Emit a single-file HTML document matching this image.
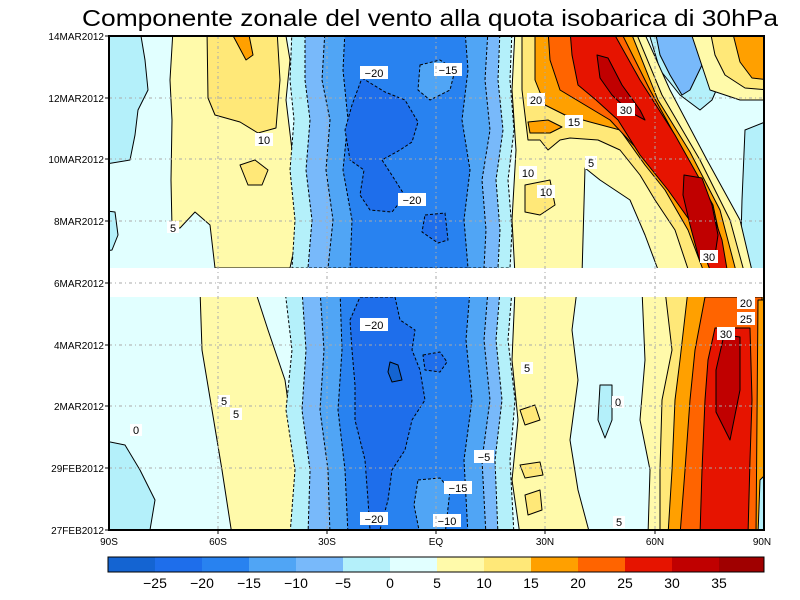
<!DOCTYPE html>
<html><head><meta charset="utf-8"><style>body{margin:0;background:#fff}svg{display:block}</style></head><body>
<svg width="800" height="600" viewBox="0 0 800 600" xmlns="http://www.w3.org/2000/svg" font-family="Liberation Sans, sans-serif">
<rect width="800" height="600" fill="#fff"/>
<text x="82" y="26" font-size="23" textLength="696" lengthAdjust="spacingAndGlyphs">Componente zonale del vento alla quota isobarica di 30hPa</text>
<defs><clipPath id="c"><rect x="109" y="36" width="655" height="494"/></clipPath></defs>
<g clip-path="url(#c)" stroke="#000" stroke-width="1" stroke-linejoin="round">
<rect x="109" y="36" width="655" height="494" fill="#e1ffff" stroke="none"/>
<!-- TOP HALF -->
<polygon fill="#b4f0fa" points="100,30 140,30 145,60 148,90 138,110 135,135 130,160 100,165"/>
<polygon fill="#b4f0fa" points="100,210 115,212 118,235 112,250 100,252"/>
<polygon fill="#fffaaa" points="173,30 285,30 290,60 286,100 292,150 294,200 298,230 290,268 215,268 210,225 195,212 180,228 172,228 171,180 172,120 170,80"/>
<polygon fill="#ffe878" points="207,30 277,30 280,80 276,128 258,133 240,122 215,115 208,98"/>
<polygon fill="#ffe878" points="240,165 255,160 268,170 262,185 248,185"/>
<polygon fill="#ffa000" points="230,30 248,30 253,55 246,60"/>
<!-- blue core top -->
<polygon fill="#b4f0fa" stroke-dasharray="3,2" points="292,30 512,30 510,80 514,130 508,180 512,230 510,268 292,268 295,220 290,170 294,120 290,80"/>
<polygon fill="#78b9fa" stroke-dasharray="3,2" points="305,30 500,30 498,80 503,130 496,180 500,230 498,268 308,268 312,220 306,170 310,120 305,80"/>
<polygon fill="#50a5f5" stroke-dasharray="3,2" points="325,30 488,30 485,80 490,130 482,180 486,230 484,268 328,268 333,220 326,170 330,120 322,80"/>
<polygon fill="#2882f0" stroke-dasharray="3,2" points="345,30 465,30 468,70 462,120 470,170 464,220 468,268 350,268 352,220 343,170 348,120 343,70"/>
<polygon fill="#50a5f5" stroke-dasharray="3,2" points="420,65 440,60 455,70 450,90 430,100 418,90"/>
<polygon fill="#1e6eeb" stroke-dasharray="3,2" points="362,78 385,92 405,100 418,122 412,142 400,150 382,160 395,180 405,196 392,212 370,210 360,195 364,170 350,160 345,130 352,105"/>
<polygon fill="#1e6eeb" stroke-dasharray="3,2" points="425,215 445,213 448,240 438,243 422,232"/>
<!-- right top -->
<polygon fill="#b4f0fa" points="648,30 720,30 725,70 712,100 700,110 680,95 660,70"/>
<polygon fill="#78b9fa" points="655,30 700,30 702,65 690,90 682,95 670,75 660,55"/>
<polygon fill="#b4f0fa" points="745,130 770,120 770,275 740,275 742,200"/>
<polygon fill="#fffaaa" points="690,30 770,30 770,100 740,100 710,90 700,60"/>
<polygon fill="#ffe878" points="710,30 770,30 770,90 745,88 725,75 715,55"/>
<polygon fill="#ffa000" points="732,30 770,30 770,80 752,78 740,62"/>
<polygon fill="#fffaaa" points="515,30 643,30 670,90 707,160 740,220 753,275 660,275 645,235 630,200 600,180 585,168 582,275 515,275 512,220 516,150 512,90"/>
<polygon fill="#ffe878" points="522,30 635,30 662,95 700,160 730,220 745,275 690,275 675,230 655,200 640,175 620,150 598,140 570,138 560,140 548,150 540,140 528,140 522,90"/>
<polygon fill="#ffe878" points="525,185 550,180 555,205 540,215 525,212"/>
<polygon fill="#ffa000" points="535,30 630,30 658,100 690,152 720,210 737,275 705,275 688,230 665,190 645,165 620,130 590,122 565,115 545,105 535,80"/>
<polygon fill="#ffa000" points="528,122 548,120 562,127 550,133 530,133"/>
<polygon fill="#ff6400" points="548,30 620,30 650,90 683,150 713,205 728,275 712,275 693,225 665,185 638,150 610,120 585,105 560,90 550,60"/>
<polygon fill="#e61400" points="570,30 612,30 640,80 675,135 703,185 722,240 728,275 712,275 693,225 668,190 640,155 618,120 596,100 578,85 572,55"/>
<polygon fill="#c00000" points="597,55 608,58 622,85 640,110 645,120 630,112 612,95 600,78"/>
<polygon fill="#c00000" points="684,175 702,178 712,205 718,235 714,262 700,262 690,225 683,195"/>
<!-- BOTTOM HALF -->
<polygon fill="#b4f0fa" points="100,440 125,445 140,470 155,500 150,530 100,535"/>
<polygon fill="#fffaaa" points="200,290 255,290 268,330 285,380 292,430 300,480 305,535 232,535 222,470 212,410 202,350"/>
<polygon fill="#b4f0fa" stroke-dasharray="3,2" points="285,290 512,290 508,340 515,400 510,460 514,535 290,535 295,470 286,410 292,350"/>
<polygon fill="#78b9fa" stroke-dasharray="3,2" points="302,290 500,290 496,340 502,400 495,460 498,535 308,535 310,470 302,410 306,350"/>
<polygon fill="#50a5f5" stroke-dasharray="3,2" points="320,290 488,290 484,340 490,400 482,460 486,535 330,535 328,470 320,410 324,350"/>
<polygon fill="#2882f0" stroke-dasharray="3,2" points="340,290 470,290 466,340 472,400 464,460 468,535 348,535 345,470 338,410 342,350"/>
<polygon fill="#50a5f5" stroke-dasharray="3,2" points="418,480 440,478 450,490 445,535 420,535 414,505"/>
<polygon fill="#1e6eeb" stroke-dasharray="3,2" points="360,297 395,297 400,320 415,330 412,350 420,370 425,400 412,420 405,450 392,470 388,500 380,530 370,530 368,500 365,460 355,420 355,385 352,350 350,320"/>
<polygon fill="#1e6eeb" stroke-dasharray="3,2" points="423,355 440,352 447,362 440,372 425,370"/>
<polygon fill="#1464d2" points="390,362 398,365 402,380 392,382 388,372"/>
<polygon fill="#fffaaa" points="515,290 577,290 572,330 578,380 570,440 578,490 590,535 520,535 512,480 518,420 512,360"/>
<polygon fill="#ffe878" points="520,410 535,405 540,420 525,425"/>
<polygon fill="#ffe878" points="520,465 540,462 543,475 525,478"/>
<polygon fill="#ffe878" points="525,495 540,490 542,510 528,515"/>
<polygon fill="#b4f0fa" points="600,385 612,385 612,420 605,438 598,420"/>
<polygon fill="#fffaaa" points="642,290 770,290 770,535 648,535 650,470 640,420 645,360"/>
<polygon fill="#ffe878" points="665,290 770,290 770,535 660,535 660,470 662,400 672,350"/>
<polygon fill="#ffa000" points="688,290 770,290 770,535 668,535 672,470 675,400 680,360"/>
<polygon fill="#ff6400" points="705,297 762,297 760,400 758,535 680,535 685,470 690,400 695,350"/>
<polygon fill="#e61400" points="715,328 750,328 752,400 750,460 748,535 700,535 702,470 705,400 708,360"/>
<polygon fill="#c00000" points="724,335 740,337 740,390 730,440 716,412 716,370"/>
<polygon fill="#ffa000" points="758,300 770,300 770,535 756,535"/>
<polygon fill="#b4f0fa" points="760,480 770,470 770,535 758,535"/>
</g>
<!-- missing data band -->
<rect x="109" y="268" width="656" height="29" fill="#fff"/>
<!-- labels on contours -->
<g font-size="11" text-anchor="middle">
<g fill="#fff"><rect x="255" y="133" width="18" height="13"/><rect x="167" y="221" width="12" height="12"/><rect x="360" y="66" width="28" height="13"/><rect x="434" y="63" width="28" height="13"/><rect x="398" y="193" width="28" height="13"/><rect x="527" y="93" width="18" height="13"/><rect x="565" y="115" width="18" height="13"/><rect x="617" y="103" width="18" height="13"/><rect x="519" y="166" width="18" height="13"/><rect x="537" y="185" width="18" height="13"/><rect x="585" y="156" width="12" height="13"/><rect x="700" y="250" width="18" height="13"/><rect x="360" y="318" width="28" height="13"/><rect x="360" y="512" width="28" height="13"/><rect x="444" y="481" width="28" height="13"/><rect x="433" y="514" width="28" height="13"/><rect x="474" y="450" width="20" height="13"/><rect x="521" y="362" width="12" height="12"/><rect x="612" y="396" width="12" height="12"/><rect x="613" y="516" width="12" height="12"/><rect x="218" y="395" width="12" height="12"/><rect x="230" y="408" width="12" height="12"/><rect x="130" y="424" width="12" height="12"/><rect x="737" y="296" width="18" height="13"/><rect x="737" y="312" width="18" height="13"/><rect x="717" y="327" width="18" height="13"/></g>
<text x="264" y="144">10</text><text x="173" y="232">5</text><text x="374" y="77">−20</text><text x="448" y="74">−15</text><text x="412" y="204">−20</text><text x="536" y="104">20</text><text x="574" y="126">15</text><text x="626" y="114">30</text><text x="528" y="177">10</text><text x="546" y="196">10</text><text x="591" y="167">5</text><text x="709" y="261">30</text>
<text x="374" y="329">−20</text><text x="374" y="523">−20</text><text x="458" y="492">−15</text><text x="447" y="525">−10</text><text x="484" y="461">−5</text><text x="527" y="372">5</text><text x="618" y="406">0</text><text x="619" y="526">5</text><text x="224" y="405">5</text><text x="236" y="418">5</text><text x="136" y="434">0</text><text x="746" y="307">20</text><text x="746" y="323">25</text><text x="726" y="338">30</text>
</g>
<!-- grid -->
<g stroke="#aaa" stroke-width="1" stroke-dasharray="3,3,1,3">
<line x1="218" y1="36" x2="218" y2="530"/><line x1="327" y1="36" x2="327" y2="530"/><line x1="436" y1="36" x2="436" y2="530"/><line x1="545" y1="36" x2="545" y2="530"/><line x1="655" y1="36" x2="655" y2="530"/>
<line x1="109" y1="98" x2="764" y2="98"/><line x1="109" y1="159" x2="764" y2="159"/><line x1="109" y1="221" x2="764" y2="221"/><line x1="109" y1="283" x2="764" y2="283"/><line x1="109" y1="345" x2="764" y2="345"/><line x1="109" y1="406" x2="764" y2="406"/><line x1="109" y1="468" x2="764" y2="468"/>
</g>
<rect x="109" y="36" width="655" height="494" fill="none" stroke="#000" stroke-width="2"/>
<g stroke="#000"><line x1="105" y1="36" x2="109" y2="36"/><line x1="105" y1="98" x2="109" y2="98"/><line x1="105" y1="159" x2="109" y2="159"/><line x1="105" y1="221" x2="109" y2="221"/><line x1="105" y1="283" x2="109" y2="283"/><line x1="105" y1="345" x2="109" y2="345"/><line x1="105" y1="406" x2="109" y2="406"/><line x1="105" y1="468" x2="109" y2="468"/><line x1="105" y1="530" x2="109" y2="530"/>
<line x1="218" y1="530" x2="218" y2="534"/><line x1="327" y1="530" x2="327" y2="534"/><line x1="436" y1="530" x2="436" y2="534"/><line x1="545" y1="530" x2="545" y2="534"/><line x1="655" y1="530" x2="655" y2="534"/></g>
<g font-size="10" text-anchor="end">
<text x="104" y="40">14MAR2012</text><text x="104" y="102">12MAR2012</text><text x="104" y="163">10MAR2012</text><text x="104" y="225">8MAR2012</text><text x="104" y="287">6MAR2012</text><text x="104" y="349">4MAR2012</text><text x="104" y="410">2MAR2012</text><text x="104" y="472">29FEB2012</text><text x="104" y="534">27FEB2012</text>
</g>
<g font-size="10" text-anchor="middle">
<text x="109" y="545">90S</text><text x="218" y="545">60S</text><text x="327" y="545">30S</text><text x="436" y="545">EQ</text><text x="545" y="545">30N</text><text x="655" y="545">60N</text><text x="762" y="545">90N</text>
</g>
<!-- colorbar -->
<g stroke="none">
<rect x="108" y="557" width="47" height="15" fill="#1464d2"/><rect x="155" y="557" width="47" height="15" fill="#1e6eeb"/><rect x="202" y="557" width="47" height="15" fill="#2882f0"/><rect x="249" y="557" width="47" height="15" fill="#50a5f5"/><rect x="296" y="557" width="47" height="15" fill="#78b9fa"/><rect x="343" y="557" width="47" height="15" fill="#b4f0fa"/><rect x="390" y="557" width="47" height="15" fill="#e1ffff"/><rect x="437" y="557" width="47" height="15" fill="#fffaaa"/><rect x="484" y="557" width="47" height="15" fill="#ffe878"/><rect x="531" y="557" width="47" height="15" fill="#ffa000"/><rect x="578" y="557" width="47" height="15" fill="#ff6400"/><rect x="625" y="557" width="47" height="15" fill="#e61400"/><rect x="672" y="557" width="47" height="15" fill="#c00000"/><rect x="719" y="557" width="45" height="15" fill="#a00000"/>
</g>
<rect x="108" y="557" width="656" height="15" fill="none" stroke="#000" stroke-width="1"/>
<g font-size="14" text-anchor="middle">
<text x="155" y="588">−25</text><text x="202" y="588">−20</text><text x="249" y="588">−15</text><text x="296" y="588">−10</text><text x="343" y="588">−5</text><text x="390" y="588">0</text><text x="437" y="588">5</text><text x="484" y="588">10</text><text x="531" y="588">15</text><text x="578" y="588">20</text><text x="625" y="588">25</text><text x="672" y="588">30</text><text x="719" y="588">35</text>
</g>
</svg>
</body></html>
